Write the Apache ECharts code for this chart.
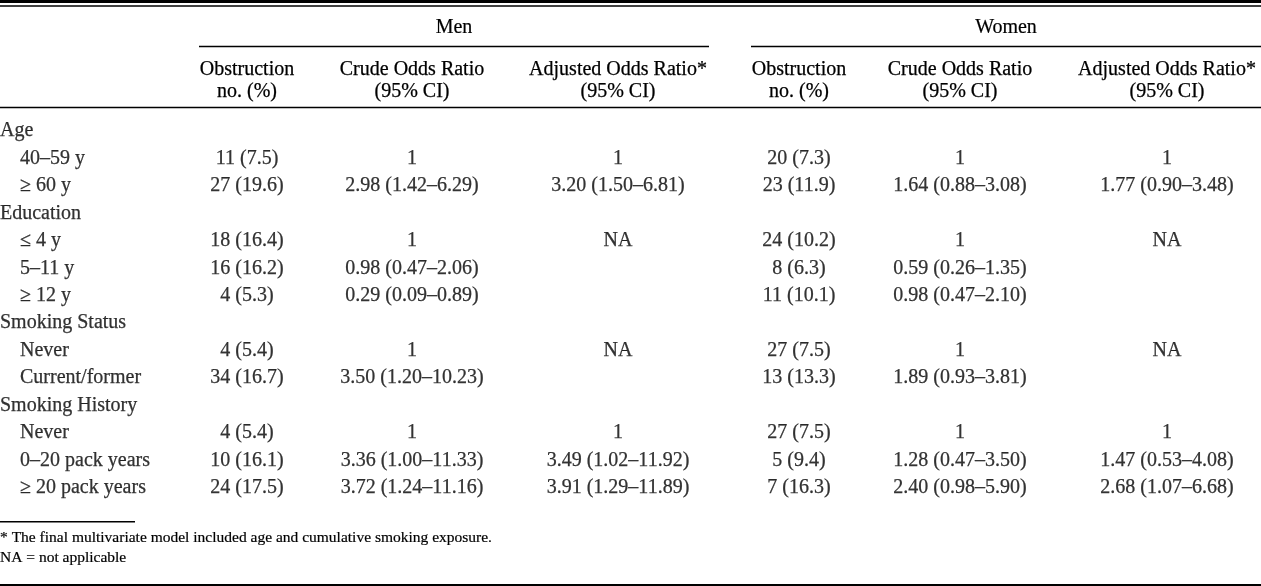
<!DOCTYPE html>
<html>
<head>
<meta charset="utf-8">
<script src="https://cdn.jsdelivr.net/npm/echarts@6.0.0/dist/echarts.min.js"></script>
<style>
  html, body { margin: 0; padding: 0; background: #ffffff; }
  #chart { width: 1261px; height: 586px; }
</style>
</head>
<body>
<div id="chart"></div>
<script>
// ---------------- DATA ----------------
const groupHeaders = ['Men', 'Women'];
const columnHeaders = [
  'Obstruction\nno. (%)', 'Crude Odds Ratio\n(95% CI)', 'Adjusted Odds Ratio*\n(95% CI)',
  'Obstruction\nno. (%)', 'Crude Odds Ratio\n(95% CI)', 'Adjusted Odds Ratio*\n(95% CI)'
];
const rowLabels = [
  'Age', '40–59 y', '≥ 60 y',
  'Education', '≤ 4 y', '5–11 y', '≥ 12 y',
  'Smoking Status', 'Never', 'Current/former',
  'Smoking History', 'Never', '0–20 pack years', '≥ 20 pack years'
];
const rowLevel = [0, 1, 1, 0, 1, 1, 1, 0, 1, 1, 0, 1, 1, 1];
const menObstruction = [null, '11 (7.5)', '27 (19.6)', null, '18 (16.4)', '16 (16.2)', '4 (5.3)', null, '4 (5.4)', '34 (16.7)', null, '4 (5.4)', '10 (16.1)', '24 (17.5)'];
const menCrude = [null, '1', '2.98 (1.42–6.29)', null, '1', '0.98 (0.47–2.06)', '0.29 (0.09–0.89)', null, '1', '3.50 (1.20–10.23)', null, '1', '3.36 (1.00–11.33)', '3.72 (1.24–11.16)'];
const menAdjusted = [null, '1', '3.20 (1.50–6.81)', null, 'NA', null, null, null, 'NA', null, null, '1', '3.49 (1.02–11.92)', '3.91 (1.29–11.89)'];
const womenObstruction = [null, '20 (7.3)', '23 (11.9)', null, '24 (10.2)', '8 (6.3)', '11 (10.1)', null, '27 (7.5)', '13 (13.3)', null, '27 (7.5)', '5 (9.4)', '7 (16.3)'];
const womenCrude = [null, '1', '1.64 (0.88–3.08)', null, '1', '0.59 (0.26–1.35)', '0.98 (0.47–2.10)', null, '1', '1.89 (0.93–3.81)', null, '1', '1.28 (0.47–3.50)', '2.40 (0.98–5.90)'];
const womenAdjusted = [null, '1', '1.77 (0.90–3.48)', null, 'NA', null, null, null, 'NA', null, null, '1', '1.47 (0.53–4.08)', '2.68 (1.07–6.68)'];
const footnotes = [
  '* The final multivariate model included age and cumulative smoking exposure.',
  'NA = not applicable'
];

// ---------------- LAYOUT ----------------
const W = 1261;
const FONT = '"Liberation Serif", "Times New Roman", serif';
const FS = 20;
const INK = '#000000';
const colCenters = [247, 412, 618, 799, 960, 1167];
const colWidth = 120;
const rowTop = 131, rowBottom = 586 - 488;
const indent = 20;

const columns = [menObstruction, menCrude, menAdjusted, womenObstruction, womenCrude, womenAdjusted];

const grids = [], xAxes = [], yAxes = [], series = [];

function yAxisFor(i) {
  return {
    gridIndex: i, type: 'category', data: rowLabels, inverse: true, boundaryGap: false,
    show: false
  };
}

const textStyle = {
  fontFamily: FONT, fontSize: FS, color: INK,
  textBorderColor: INK, textBorderWidth: 0.25
};

// label column
grids.push({ left: 0, width: indent, top: rowTop, bottom: rowBottom, containLabel: false });
xAxes.push({ gridIndex: 0, type: 'value', min: 0, max: 1, show: false });
yAxes.push(yAxisFor(0));
series.push({
  type: 'scatter', xAxisIndex: 0, yAxisIndex: 0, symbolSize: 0, silent: true,
  data: rowLabels.map((t, i) => [rowLevel[i], i, t]),
  label: Object.assign({
    show: true, position: 'right', distance: 0, formatter: p => p.value[2],
    align: 'left', verticalAlign: 'middle'
  }, textStyle)
});

// data columns
columns.forEach((col, c) => {
  const gi = c + 1;
  grids.push({ left: colCenters[c] - colWidth / 2, width: colWidth, top: rowTop, bottom: rowBottom });
  xAxes.push({
    gridIndex: gi, type: 'category', data: [columnHeaders[c]], position: 'top',
    axisLine: { show: false }, axisTick: { show: false }, splitLine: { show: false },
    axisLabel: Object.assign({
      show: true, interval: 0, margin: 29, lineHeight: 21.5, align: 'center'
    }, textStyle)
  });
  yAxes.push(yAxisFor(gi));
  series.push({
    type: 'scatter', xAxisIndex: gi, yAxisIndex: gi, symbolSize: 0, silent: true,
    data: col.map((t, i) => t == null ? null : [0, i, t]).filter(d => d),
    label: Object.assign({
      show: true, position: 'inside', formatter: p => p.value[2],
      align: 'center', verticalAlign: 'middle'
    }, textStyle)
  });
});

function hline(x1, x2, y, w) {
  return { type: 'line', silent: true, shape: { x1, y1: y, x2, y2: y }, style: { stroke: INK, lineWidth: w } };
}
function text(t, x, y, size, align) {
  return {
    type: 'text', silent: true, x, y,
    style: { text: t, fill: INK, font: size + 'px ' + FONT, align, verticalAlign: 'middle',
             stroke: INK, lineWidth: 0.2 }
  };
}

const graphic = [
  hline(0, W, 1.5, 3),
  hline(0, W, 6, 1.3),
  hline(199, 709, 46.5, 1.5),
  hline(751, W, 46.5, 1.5),
  hline(0, W, 107.5, 1.5),
  hline(0, 135, 521.7, 1.5),
  hline(0, W, 585, 2),
  text(groupHeaders[0], 454, 28, FS, 'center'),
  text(groupHeaders[1], 1006, 28, FS, 'center'),
  text(footnotes[0], 0, 537.5, 15.5, 'left'),
  text(footnotes[1], 0, 557.5, 15.5, 'left')
];

const chart = echarts.init(document.getElementById('chart'), null, { renderer: 'canvas' });
chart.setOption({
  animation: false,
  backgroundColor: '#ffffff',
  grid: grids, xAxis: xAxes, yAxis: yAxes, series, graphic
});
</script>
</body>
</html>
